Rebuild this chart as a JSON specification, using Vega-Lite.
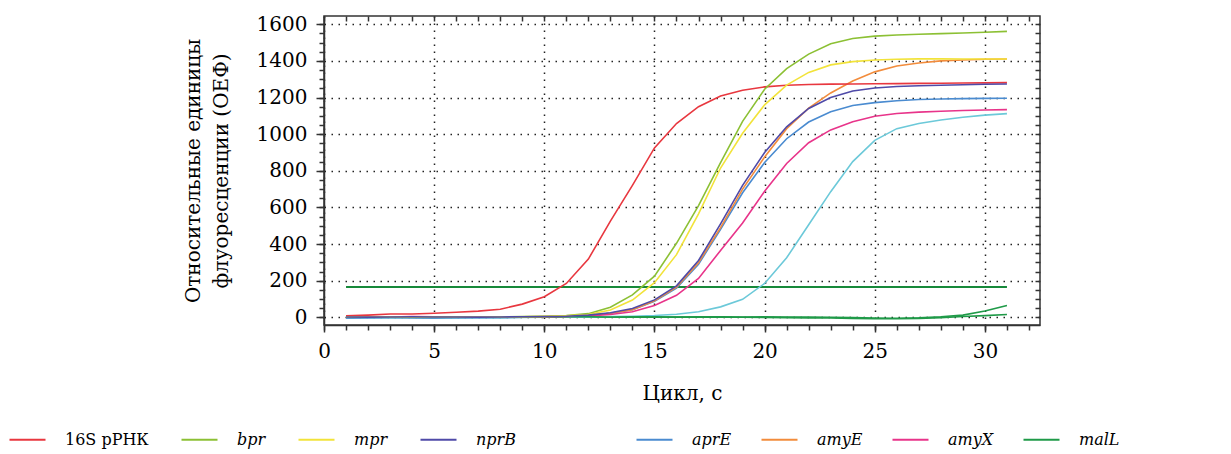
{
  "$schema": "https://vega.github.io/schema/vega-lite/v6.json",
  "width": 716,
  "height": 309,
  "autosize": "none",
  "padding": {"left": 324, "top": 16, "right": 191, "bottom": 129},
  "background": "white",
  "config": {
    "view": {"stroke": "#333", "strokeWidth": 1.5},
    "axis": {"domainColor": "#333", "tickColor": "#333", "labelColor": "#000", "titleColor": "#000", "labelFont": "DejaVu Serif", "titleFont": "DejaVu Serif", "titleFontWeight": "normal", "domainWidth": 1.5, "tickWidth": 1.5}
  },
  "datasets": {
    "thr": [{"c": 1, "v": 165}, {"c": 31, "v": 165}],
    "cyan": [
      {"c":1,"v":-5},{"c":2,"v":-4},{"c":3,"v":-3},{"c":4,"v":-4},{"c":5,"v":-5},{"c":6,"v":-3},{"c":7,"v":-2},{"c":8,"v":-3},{"c":9,"v":-1},{"c":10,"v":0},
      {"c":11,"v":1},{"c":12,"v":2},{"c":13,"v":4},{"c":14,"v":6},{"c":15,"v":10},{"c":16,"v":17},{"c":17,"v":30},{"c":18,"v":57},{"c":19,"v":98},{"c":20,"v":185},
      {"c":21,"v":325},{"c":22,"v":505},{"c":23,"v":686},{"c":24,"v":850},{"c":25,"v":966},{"c":26,"v":1030},{"c":27,"v":1058},{"c":28,"v":1077},{"c":29,"v":1092},{"c":30,"v":1104},{"c":31,"v":1112}
    ],
    "green2": [
      {"c":1,"v":0},{"c":2,"v":1},{"c":3,"v":0},{"c":4,"v":1},{"c":5,"v":0},{"c":6,"v":0},{"c":7,"v":1},{"c":8,"v":0},{"c":9,"v":1},{"c":10,"v":0},
      {"c":11,"v":1},{"c":12,"v":0},{"c":13,"v":1},{"c":14,"v":1},{"c":15,"v":0},{"c":16,"v":1},{"c":17,"v":0},{"c":18,"v":1},{"c":19,"v":0},{"c":20,"v":-1},
      {"c":21,"v":-2},{"c":22,"v":-3},{"c":23,"v":-4},{"c":24,"v":-6},{"c":25,"v":-8},{"c":26,"v":-8},{"c":27,"v":-6},{"c":28,"v":-2},{"c":29,"v":4},{"c":30,"v":9},{"c":31,"v":15}
    ],
    "A": [
      {"g":"16S рРНК","c":1,"v":8},{"g":"16S рРНК","c":2,"v":12},{"g":"16S рРНК","c":3,"v":18},{"g":"16S рРНК","c":4,"v":18},{"g":"16S рРНК","c":5,"v":22},{"g":"16S рРНК","c":6,"v":28},{"g":"16S рРНК","c":7,"v":34},{"g":"16S рРНК","c":8,"v":44},{"g":"16S рРНК","c":9,"v":72},{"g":"16S рРНК","c":10,"v":112},
      {"g":"16S рРНК","c":11,"v":185},{"g":"16S рРНК","c":12,"v":318},{"g":"16S рРНК","c":13,"v":525},{"g":"16S рРНК","c":14,"v":720},{"g":"16S рРНК","c":15,"v":925},{"g":"16S рРНК","c":16,"v":1058},{"g":"16S рРНК","c":17,"v":1150},{"g":"16S рРНК","c":18,"v":1208},{"g":"16S рРНК","c":19,"v":1240},{"g":"16S рРНК","c":20,"v":1258},
      {"g":"16S рРНК","c":21,"v":1267},{"g":"16S рРНК","c":22,"v":1271},{"g":"16S рРНК","c":23,"v":1273},{"g":"16S рРНК","c":24,"v":1274},{"g":"16S рРНК","c":25,"v":1275},{"g":"16S рРНК","c":26,"v":1276},{"g":"16S рРНК","c":27,"v":1277},{"g":"16S рРНК","c":28,"v":1278},{"g":"16S рРНК","c":29,"v":1279},{"g":"16S рРНК","c":30,"v":1280},{"g":"16S рРНК","c":31,"v":1281},
      {"g":"bpr","c":1,"v":3},{"g":"bpr","c":2,"v":2},{"g":"bpr","c":3,"v":3},{"g":"bpr","c":4,"v":2},{"g":"bpr","c":5,"v":2},{"g":"bpr","c":6,"v":3},{"g":"bpr","c":7,"v":3},{"g":"bpr","c":8,"v":3},{"g":"bpr","c":9,"v":4},{"g":"bpr","c":10,"v":6},
      {"g":"bpr","c":11,"v":10},{"g":"bpr","c":12,"v":20},{"g":"bpr","c":13,"v":55},{"g":"bpr","c":14,"v":122},{"g":"bpr","c":15,"v":225},{"g":"bpr","c":16,"v":404},{"g":"bpr","c":17,"v":610},{"g":"bpr","c":18,"v":845},{"g":"bpr","c":19,"v":1070},{"g":"bpr","c":20,"v":1245},
      {"g":"bpr","c":21,"v":1358},{"g":"bpr","c":22,"v":1437},{"g":"bpr","c":23,"v":1494},{"g":"bpr","c":24,"v":1522},{"g":"bpr","c":25,"v":1535},{"g":"bpr","c":26,"v":1541},{"g":"bpr","c":27,"v":1545},{"g":"bpr","c":28,"v":1549},{"g":"bpr","c":29,"v":1552},{"g":"bpr","c":30,"v":1556},{"g":"bpr","c":31,"v":1561},
      {"g":"mpr","c":1,"v":2},{"g":"mpr","c":2,"v":3},{"g":"mpr","c":3,"v":2},{"g":"mpr","c":4,"v":3},{"g":"mpr","c":5,"v":2},{"g":"mpr","c":6,"v":2},{"g":"mpr","c":7,"v":3},{"g":"mpr","c":8,"v":2},{"g":"mpr","c":9,"v":3},{"g":"mpr","c":10,"v":5},
      {"g":"mpr","c":11,"v":8},{"g":"mpr","c":12,"v":15},{"g":"mpr","c":13,"v":40},{"g":"mpr","c":14,"v":94},{"g":"mpr","c":15,"v":189},{"g":"mpr","c":16,"v":342},{"g":"mpr","c":17,"v":565},{"g":"mpr","c":18,"v":815},{"g":"mpr","c":19,"v":1005},{"g":"mpr","c":20,"v":1160},
      {"g":"mpr","c":21,"v":1268},{"g":"mpr","c":22,"v":1337},{"g":"mpr","c":23,"v":1378},{"g":"mpr","c":24,"v":1396},{"g":"mpr","c":25,"v":1405},{"g":"mpr","c":26,"v":1409},{"g":"mpr","c":27,"v":1411},{"g":"mpr","c":28,"v":1411},{"g":"mpr","c":29,"v":1410},{"g":"mpr","c":30,"v":1410},{"g":"mpr","c":31,"v":1410},
      {"g":"nprB","c":1,"v":2},{"g":"nprB","c":2,"v":1},{"g":"nprB","c":3,"v":2},{"g":"nprB","c":4,"v":3},{"g":"nprB","c":5,"v":2},{"g":"nprB","c":6,"v":2},{"g":"nprB","c":7,"v":1},{"g":"nprB","c":8,"v":2},{"g":"nprB","c":9,"v":3},{"g":"nprB","c":10,"v":4},
      {"g":"nprB","c":11,"v":6},{"g":"nprB","c":12,"v":12},{"g":"nprB","c":13,"v":25},{"g":"nprB","c":14,"v":48},{"g":"nprB","c":15,"v":95},{"g":"nprB","c":16,"v":172},{"g":"nprB","c":17,"v":310},{"g":"nprB","c":18,"v":510},{"g":"nprB","c":19,"v":720},{"g":"nprB","c":20,"v":900},
      {"g":"nprB","c":21,"v":1040},{"g":"nprB","c":22,"v":1140},{"g":"nprB","c":23,"v":1200},{"g":"nprB","c":24,"v":1236},{"g":"nprB","c":25,"v":1252},{"g":"nprB","c":26,"v":1260},{"g":"nprB","c":27,"v":1264},{"g":"nprB","c":28,"v":1267},{"g":"nprB","c":29,"v":1270},{"g":"nprB","c":30,"v":1272},{"g":"nprB","c":31,"v":1274}
    ],
    "B": [
      {"g":"aprE","c":1,"v":-3},{"g":"aprE","c":2,"v":-2},{"g":"aprE","c":3,"v":-1},{"g":"aprE","c":4,"v":-2},{"g":"aprE","c":5,"v":-3},{"g":"aprE","c":6,"v":-1},{"g":"aprE","c":7,"v":-2},{"g":"aprE","c":8,"v":-1},{"g":"aprE","c":9,"v":0},{"g":"aprE","c":10,"v":3},
      {"g":"aprE","c":11,"v":5},{"g":"aprE","c":12,"v":10},{"g":"aprE","c":13,"v":22},{"g":"aprE","c":14,"v":42},{"g":"aprE","c":15,"v":88},{"g":"aprE","c":16,"v":160},{"g":"aprE","c":17,"v":290},{"g":"aprE","c":18,"v":480},{"g":"aprE","c":19,"v":680},{"g":"aprE","c":20,"v":845},
      {"g":"aprE","c":21,"v":975},{"g":"aprE","c":22,"v":1066},{"g":"aprE","c":23,"v":1122},{"g":"aprE","c":24,"v":1156},{"g":"aprE","c":25,"v":1172},{"g":"aprE","c":26,"v":1182},{"g":"aprE","c":27,"v":1189},{"g":"aprE","c":28,"v":1192},{"g":"aprE","c":29,"v":1194},{"g":"aprE","c":30,"v":1195},{"g":"aprE","c":31,"v":1196},
      {"g":"amyE","c":1,"v":1},{"g":"amyE","c":2,"v":2},{"g":"amyE","c":3,"v":1},{"g":"amyE","c":4,"v":2},{"g":"amyE","c":5,"v":1},{"g":"amyE","c":6,"v":0},{"g":"amyE","c":7,"v":1},{"g":"amyE","c":8,"v":2},{"g":"amyE","c":9,"v":2},{"g":"amyE","c":10,"v":3},
      {"g":"amyE","c":11,"v":5},{"g":"amyE","c":12,"v":10},{"g":"amyE","c":13,"v":22},{"g":"amyE","c":14,"v":42},{"g":"amyE","c":15,"v":90},{"g":"amyE","c":16,"v":165},{"g":"amyE","c":17,"v":298},{"g":"amyE","c":18,"v":490},{"g":"amyE","c":19,"v":700},{"g":"amyE","c":20,"v":875},
      {"g":"amyE","c":21,"v":1030},{"g":"amyE","c":22,"v":1142},{"g":"amyE","c":23,"v":1225},{"g":"amyE","c":24,"v":1290},{"g":"amyE","c":25,"v":1340},{"g":"amyE","c":26,"v":1372},{"g":"amyE","c":27,"v":1388},{"g":"amyE","c":28,"v":1400},{"g":"amyE","c":29,"v":1405},{"g":"amyE","c":30,"v":1409},{"g":"amyE","c":31,"v":1410},
      {"g":"amyX","c":1,"v":5},{"g":"amyX","c":2,"v":3},{"g":"amyX","c":3,"v":2},{"g":"amyX","c":4,"v":4},{"g":"amyX","c":5,"v":3},{"g":"amyX","c":6,"v":2},{"g":"amyX","c":7,"v":3},{"g":"amyX","c":8,"v":2},{"g":"amyX","c":9,"v":2},{"g":"amyX","c":10,"v":2},
      {"g":"amyX","c":11,"v":4},{"g":"amyX","c":12,"v":8},{"g":"amyX","c":13,"v":15},{"g":"amyX","c":14,"v":30},{"g":"amyX","c":15,"v":64},{"g":"amyX","c":16,"v":120},{"g":"amyX","c":17,"v":212},{"g":"amyX","c":18,"v":365},{"g":"amyX","c":19,"v":515},{"g":"amyX","c":20,"v":688},
      {"g":"amyX","c":21,"v":840},{"g":"amyX","c":22,"v":953},{"g":"amyX","c":23,"v":1023},{"g":"amyX","c":24,"v":1068},{"g":"amyX","c":25,"v":1098},{"g":"amyX","c":26,"v":1113},{"g":"amyX","c":27,"v":1120},{"g":"amyX","c":28,"v":1125},{"g":"amyX","c":29,"v":1129},{"g":"amyX","c":30,"v":1132},{"g":"amyX","c":31,"v":1134},
      {"g":"malL","c":1,"v":3},{"g":"malL","c":2,"v":2},{"g":"malL","c":3,"v":2},{"g":"malL","c":4,"v":3},{"g":"malL","c":5,"v":2},{"g":"malL","c":6,"v":2},{"g":"malL","c":7,"v":3},{"g":"malL","c":8,"v":2},{"g":"malL","c":9,"v":2},{"g":"malL","c":10,"v":3},
      {"g":"malL","c":11,"v":3},{"g":"malL","c":12,"v":3},{"g":"malL","c":13,"v":2},{"g":"malL","c":14,"v":3},{"g":"malL","c":15,"v":3},{"g":"malL","c":16,"v":2},{"g":"malL","c":17,"v":3},{"g":"malL","c":18,"v":3},{"g":"malL","c":19,"v":2},{"g":"malL","c":20,"v":3},
      {"g":"malL","c":21,"v":2},{"g":"malL","c":22,"v":1},{"g":"malL","c":23,"v":0},{"g":"malL","c":24,"v":-2},{"g":"malL","c":25,"v":-4},{"g":"malL","c":26,"v":-5},{"g":"malL","c":27,"v":-3},{"g":"malL","c":28,"v":3},{"g":"malL","c":29,"v":12},{"g":"malL","c":30,"v":34},{"g":"malL","c":31,"v":65}
    ]
  },
  "layer": [
    {
      "data": {"name": "thr"},
      "mark": {"type": "line", "color": "#17893a", "strokeWidth": 2},
      "encoding": {
        "x": {"field": "c", "type": "quantitative", "scale": {"domain": [0, 32.5], "nice": false, "zero": false},
              "axis": {"orient": "bottom", "values": [0, 5, 10, 15, 20, 25, 30], "format": "d", "title": "Цикл, с", "grid": true, "gridDash": [1.5, 5.5], "gridColor": "#222", "gridWidth": 1.5, "gridOpacity": 1, "tickSize": 7, "labelFontSize": 20, "labelPadding": 9, "titleFontSize": 20, "titlePadding": 22, "labelFlush": false}},
        "y": {"field": "v", "type": "quantitative", "scale": {"domain": [-42, 1645], "nice": false, "zero": false},
              "axis": {"orient": "left", "values": [0, 200, 400, 600, 800, 1000, 1200, 1400, 1600], "format": "d", "title": ["Относительные единицы", "флуоресценции (ОЕФ)"], "grid": true, "gridDash": [1.5, 5.5], "gridColor": "#222", "gridWidth": 1.5, "gridOpacity": 1, "tickSize": 8, "labelFontSize": 20, "labelPadding": 9, "titleFontSize": 20, "titleLineHeight": 28, "titlePadding": 25, "labelFlush": false}}
      }
    },
    {
      "data": {"name": "green2"},
      "mark": {"type": "line", "color": "#1f9a48", "strokeWidth": 1.6},
      "encoding": {
        "x": {"field": "c", "type": "quantitative", "scale": {"domain": [0, 32.5], "nice": false, "zero": false},
              "axis": {"orient": "top", "values": [0,1,2,3,4,5,6,7,8,9,10,11,12,13,14,15,16,17,18,19,20,21,22,23,24,25,26,27,28,29,30,31,32], "labels": false, "domain": false, "grid": false, "tickSize": -5, "title": null}},
        "y": {"field": "v", "type": "quantitative", "scale": {"domain": [-42, 1645], "nice": false, "zero": false},
              "axis": {"orient": "right", "values": [0,50,100,150,200,250,300,350,400,450,500,550,600,650,700,750,800,850,900,950,1000,1050,1100,1150,1200,1250,1300,1350,1400,1450,1500,1550,1600], "labels": false, "domain": false, "grid": false, "tickSize": -5, "title": null}}
      }
    },
    {
      "data": {"name": "cyan"},
      "mark": {"type": "line", "color": "#6cc9d9", "strokeWidth": 1.6},
      "encoding": {
        "x": {"field": "c", "type": "quantitative", "scale": {"domain": [0, 32.5], "nice": false, "zero": false},
              "axis": {"orient": "bottom", "values": [0,1,2,3,4,5,6,7,8,9,10,11,12,13,14,15,16,17,18,19,20,21,22,23,24,25,26,27,28,29,30,31,32], "labels": false, "domain": false, "grid": false, "tickSize": 5, "title": null}},
        "y": {"field": "v", "type": "quantitative", "scale": {"domain": [-42, 1645], "nice": false, "zero": false},
              "axis": {"orient": "left", "values": [0,50,100,150,200,250,300,350,400,450,500,550,600,650,700,750,800,850,900,950,1000,1050,1100,1150,1200,1250,1300,1350,1400,1450,1500,1550,1600], "labels": false, "domain": false, "grid": false, "tickSize": 5, "title": null}}
      }
    },
    {
      "data": {"name": "B"},
      "mark": {"type": "line", "strokeWidth": 1.6},
      "encoding": {
        "x": {"field": "c", "type": "quantitative", "scale": {"domain": [0, 32.5], "nice": false, "zero": false}, "axis": null},
        "y": {"field": "v", "type": "quantitative", "scale": {"domain": [-42, 1645], "nice": false, "zero": false}, "axis": null},
        "color": {"field": "g", "type": "nominal", "sort": null,
                  "scale": {"domain": ["aprE", "amyE", "amyX", "malL"], "range": ["#4a8bd0", "#f28c3c", "#e8348a", "#1f9a48"]},
                  "legend": {"orient": "none", "legendX": 311, "legendY": 404, "direction": "horizontal", "columns": 4, "title": null, "symbolType": "stroke", "symbolSize": 1296, "symbolStrokeWidth": 2.2, "labelFont": "DejaVu Serif", "labelFontSize": 16, "labelFontStyle": "italic", "labelColor": "#000", "labelOffset": 18, "columnPadding": 25, "labelLimit": 300}}
      }
    },
    {
      "data": {"name": "A"},
      "mark": {"type": "line", "strokeWidth": 1.6},
      "encoding": {
        "x": {"field": "c", "type": "quantitative", "scale": {"domain": [0, 32.5], "nice": false, "zero": false}, "axis": null},
        "y": {"field": "v", "type": "quantitative", "scale": {"domain": [-42, 1645], "nice": false, "zero": false}, "axis": null},
        "color": {"field": "g", "type": "nominal", "sort": null,
                  "scale": {"domain": ["16S рРНК", "bpr", "mpr", "nprB"], "range": ["#e8373f", "#8cc034", "#f2e33a", "#4f4aa8"]},
                  "legend": {"orient": "none", "legendX": -316, "legendY": 404, "direction": "horizontal", "columns": 4, "title": null, "symbolType": "stroke", "symbolSize": 1296, "symbolStrokeWidth": 2.2, "labelFont": "DejaVu Serif", "labelFontSize": 16, "labelColor": "#000", "labelOffset": 18, "columnPadding": 28, "labelLimit": 300,
                             "encode": {"labels": {"update": {"fontStyle": {"signal": "datum.value === '16S рРНК' ? 'normal' : 'italic'"}}}}}}
      }
    }
  ],
  "resolve": {"scale": {"color": "independent"}, "axis": {"x": "independent", "y": "independent"}}
}
